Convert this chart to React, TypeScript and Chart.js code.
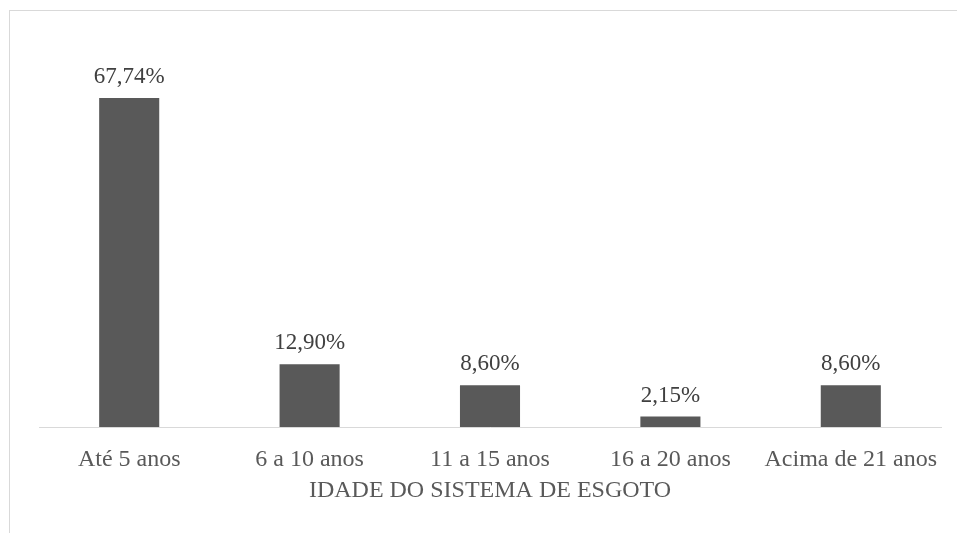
import React, { useEffect, useRef } from "react";
import { Chart, registerables } from "chart.js";

Chart.register(...registerables);

const categories = ["Até 5 anos", "6 a 10 anos", "11 a 15 anos", "16 a 20 anos", "Acima de 21 anos"];
const values = [67.74, 12.9, 8.6, 2.15, 8.6];
const axisTitle = "IDADE DO SISTEMA DE ESGOTO";
const yMax = 80;

const FONT = "'Liberation Serif', 'Times New Roman', serif";

const dataLabelPlugin = {
  id: "dataLabels",
  afterDatasetsDraw(chart: any) {
    const { ctx } = chart;
    const meta = chart.getDatasetMeta(0);
    ctx.save();
    ctx.font = `23px ${FONT}`;
    ctx.fillStyle = "#404040";
    ctx.textAlign = "center";
    ctx.textBaseline = "alphabetic";
    meta.data.forEach((bar: any, i: number) => {
      const v = values[i];
      const txt = v.toFixed(2).replace(".", ",") + "%";
      ctx.fillText(txt, bar.x, bar.y - 15);
    });
    ctx.restore();
  },
};

export default function App() {
  const ref = useRef<HTMLCanvasElement>(null);
  useEffect(() => {
    document.body.style.margin = "0";
    const chart = new Chart(ref.current!, {
      type: "bar",
      data: {
        labels: categories,
        datasets: [
          {
            data: values,
            backgroundColor: "#595959",
            borderWidth: 0,
            categoryPercentage: 1,
            barPercentage: 0.333,
          },
        ],
      },
      options: {
        responsive: false,
        animation: false,
        layout: { padding: { left: 39, right: 16, top: 38.4, bottom: 0 } },
        plugins: { legend: { display: false }, tooltip: { enabled: false } },
        scales: {
          x: {
            grid: { display: false, drawTicks: false },
            border: { display: true, color: "#d9d9d9", width: 1 },
            ticks: {
              color: "#595959",
              font: { family: FONT, size: 24 },
              padding: 18,
              maxRotation: 0,
              autoSkip: false,
            },
            title: {
              display: true,
              text: axisTitle,
              color: "#595959",
              font: { family: FONT, size: 24 },
              padding: { top: 0, bottom: 28 },
            },
            afterFit(scale: any) {
              scale.height = 106;
            },
          },
          y: { display: false, min: 0, max: yMax },
        },
      },
      plugins: [dataLabelPlugin],
    });
    return () => chart.destroy();
  }, []);
  return (
    <div style={{ position: "relative", width: 957, height: 533, overflow: "hidden", background: "#fff" }}>
      <div
        style={{
          position: "absolute",
          left: 9,
          top: 10,
          width: 1000,
          height: 600,
          border: "1px solid #d9d9d9",
          boxSizing: "border-box",
        }}
      />
      <canvas ref={ref} width={957} height={533} style={{ position: "absolute", left: 0, top: 0 }} />
    </div>
  );
}
